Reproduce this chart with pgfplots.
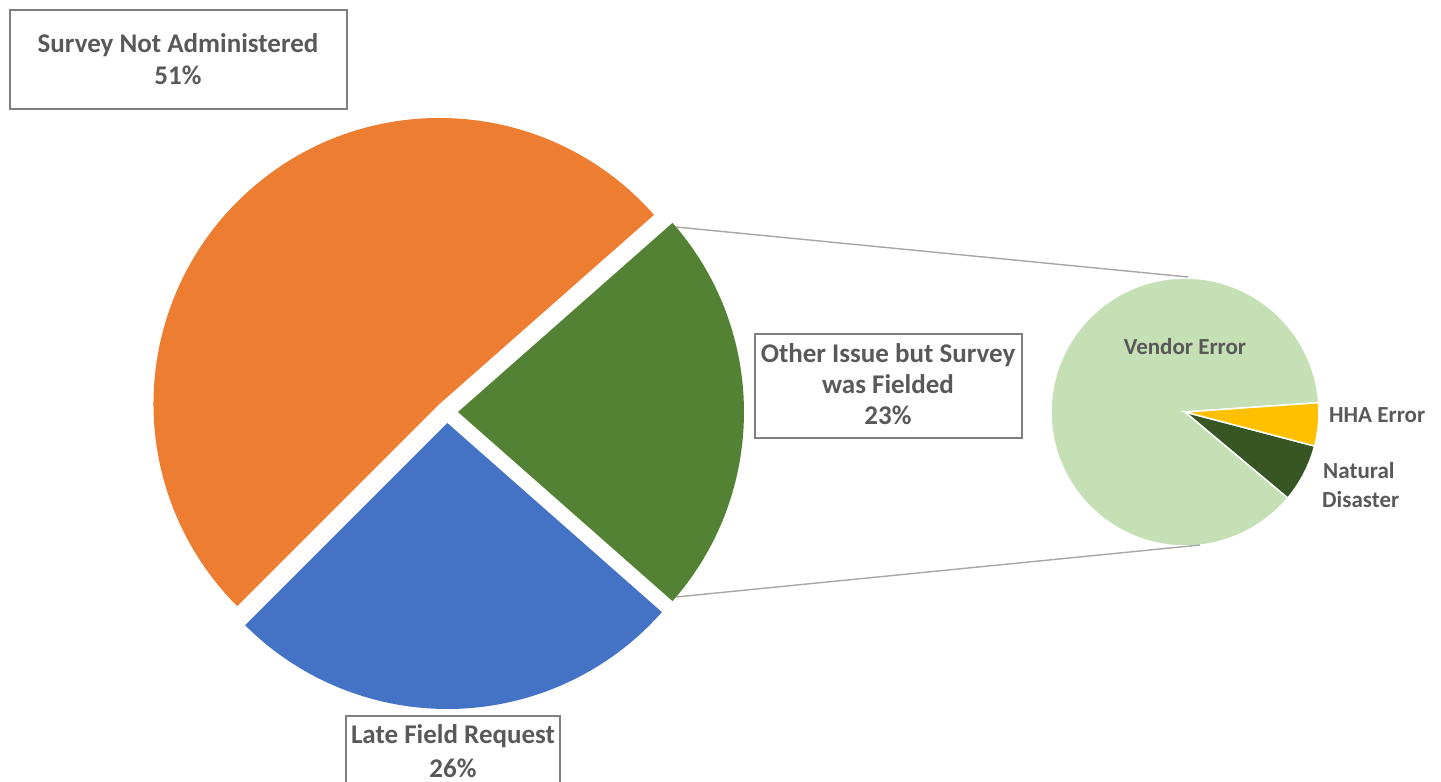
\documentclass[border=0pt]{standalone}
\usepackage{pgfplots}
\pgfplotsset{compat=1.18}
\usepackage{pgfplotstable}
\usepackage{fontspec}
\setmainfont{Carlito}

\definecolor{cOrange}{HTML}{ED7D31}
\definecolor{cBlue}{HTML}{4472C4}
\definecolor{cGreen}{HTML}{548235}
\definecolor{cLight}{HTML}{C5E0B4}
\definecolor{cYellow}{HTML}{FFC000}
\definecolor{cDark}{HTML}{375623}
\definecolor{cText}{HTML}{595959}
\definecolor{cBox}{HTML}{808080}
\definecolor{cConn}{HTML}{A6A6A6}

% main pie, in percent; the first slice is centred on 0 degrees
\pgfplotstableread{
label value color
Other 23 cGreen
Survey 51 cOrange
Late 26 cBlue
}\maintable

% secondary pie (split of "Other Issue but Survey was Fielded")
\pgfplotstableread{
label value color
Vendor 87.8 cLight
Natural 7.0 cDark
HHA 5.2 cYellow
}\subtable

% #1 table, #2 prefix, #3 start angle, #4 explode, #5 cx, #6 cy
\newcommand{\piecalc}[6]{%
  \pgfplotstablegetrowsof{#1}%
  \pgfmathtruncatemacro{\nlast}{\pgfplotsretval-1}%
  \xdef\curang{#3}%
  \foreach \i in {0,...,\nlast}{%
    \pgfplotstablegetelem{\i}{value}\of{#1}%
    \pgfmathsetmacro{\endang}{\curang+3.6*\pgfplotsretval}%
    \pgfmathsetmacro{\midang}{(\curang+\endang)/2}%
    \pgfmathsetmacro{\px}{#5+#4*cos(\midang)}%
    \pgfmathsetmacro{\py}{#6+#4*sin(\midang)}%
    \pgfplotstablegetelem{\i}{color}\of{#1}%
    \expandafter\xdef\csname #2col\i\endcsname{\pgfplotsretval}%
    \expandafter\xdef\csname #2a\i\endcsname{\curang}%
    \expandafter\xdef\csname #2b\i\endcsname{\endang}%
    \expandafter\xdef\csname #2x\i\endcsname{\px}%
    \expandafter\xdef\csname #2y\i\endcsname{\py}%
    \xdef\curang{\endang}%
  }}

% #1 prefix, #2 index, #3 radius, #4 options
\newcommand{\pieslice}[4]{%
  \edef\temp{\noexpand\filldraw[fill=\csname #1col#2\endcsname,#4]
    (axis cs:\csname #1x#2\endcsname,\csname #1y#2\endcsname)
    -- ++(\csname #1a#2\endcsname:#3)
    arc[start angle=\csname #1a#2\endcsname, end angle=\csname #1b#2\endcsname, radius=#3]
    -- cycle;}\temp}

\newcommand{\lblbig}{\fontsize{27}{32}\selectfont\bfseries}
\newcommand{\lblsmall}{\fontsize{23}{28}\selectfont\bfseries}

\begin{document}
\begin{tikzpicture}
\useasboundingbox (0,0) rectangle (1441pt,782pt);
\clip (0,0) rectangle (1441pt,782pt);

\pgfplotstablegetelem{0}{value}\of\maintable
\pgfmathsetmacro{\mstart}{-1.8*\pgfplotsretval}
\piecalc{\maintable}{m}{\mstart}{11}{447}{370}
\piecalc{\subtable}{s}{4}{0}{1185}{370}

\begin{axis}[at={(0,0)}, anchor=south west,
  x=1pt, y=1pt, xmin=0, xmax=1441, ymin=0, ymax=782,
  hide axis, clip=false]

\pgfplotsinvokeforeach{0,1,2}{\pieslice{m}{#1}{286pt}{draw=none}}
\pgfplotsinvokeforeach{0,1,2}{\pieslice{s}{#1}{134pt}{draw=white,line width=1.5pt}}

\addplot[draw=cConn, line width=1.4pt] coordinates {(676,555) (1188,505)};
\addplot[draw=cConn, line width=1.4pt] coordinates {(676,185) (1200,237)};

\draw[cBox, line width=2.5pt] (axis cs:10,673) rectangle (axis cs:347,772);
\draw[cBox, line width=2.5pt] (axis cs:755,344) rectangle (axis cs:1022,448);
\draw[cBox, line width=2.5pt] (axis cs:346,-20) rectangle (axis cs:560,66);

\begin{scope}[every node/.style={text=cText, inner sep=0pt}]
\node[anchor=base, font=\lblbig] at (axis cs:178,729) {Survey Not Administered};
\node[anchor=base, font=\lblbig] at (axis cs:178,697) {51\%};
\node[anchor=base, font=\lblbig] at (axis cs:888,419) {Other Issue but Survey};
\node[anchor=base, font=\lblbig] at (axis cs:888,388) {was Fielded};
\node[anchor=base, font=\lblbig] at (axis cs:888,357) {23\%};
\node[anchor=base, font=\lblbig] at (axis cs:453,39) {Late Field Request};
\node[anchor=base, font=\lblbig] at (axis cs:453,5) {26\%};
\node[anchor=base, font=\lblsmall] at (axis cs:1185,427) {Vendor Error};
\node[anchor=base west, font=\lblsmall] at (axis cs:1329,359) {HHA Error};
\node[anchor=base west, font=\lblsmall] at (axis cs:1323,303) {Natural};
\node[anchor=base west, font=\lblsmall] at (axis cs:1322,274) {Disaster};
\end{scope}
\end{axis}
\end{tikzpicture}
\end{document}
